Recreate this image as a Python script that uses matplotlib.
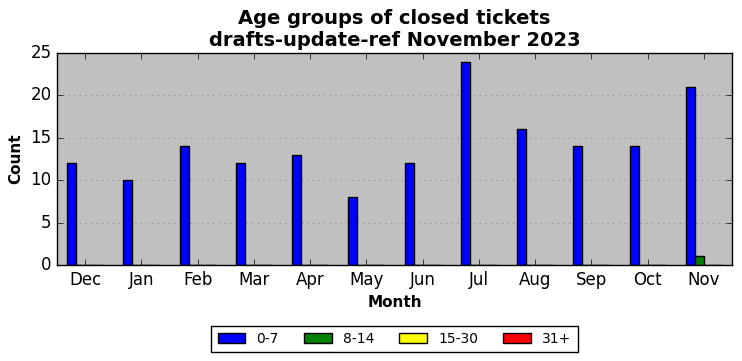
import numpy as np
import matplotlib.pyplot as plt

plt.style.use('classic')

# Closed tickets per month, split by age group (days)
months = ['Dec', 'Jan', 'Feb', 'Mar', 'Apr', 'May', 'Jun', 'Jul', 'Aug', 'Sep', 'Oct', 'Nov']
age_0_7 = [12, 10, 14, 12, 13, 8, 12, 24, 16, 14, 14, 21]
age_8_14 = [0, 0, 0, 0, 0, 0, 0, 0, 0, 0, 0, 1]
age_15_30 = [0, 0, 0, 0, 0, 0, 0, 0, 0, 0, 0, 0]
age_31 = [0, 0, 0, 0, 0, 0, 0, 0, 0, 0, 0, 0]

groups = [('0-7', age_0_7, 'blue'), ('8-14', age_8_14, 'green'),
          ('15-30', age_15_30, 'yellow'), ('31+', age_31, 'red')]

fig = plt.figure(figsize=(7.42, 3.61), dpi=100)
fig.patch.set_facecolor('white')
ax = fig.add_axes([0.0768, 0.266, 0.9097, 0.587])
ax.set_facecolor('silver')

x = np.arange(len(months))
w = 0.16
for k, (label, vals, col) in enumerate(groups):
    ax.bar(x - 2 * w + k * w, vals, width=w, align='edge', color=col,
           edgecolor='black', label=label)

ax.set_xlim(-0.5, len(months) - 0.5)
ax.set_ylim(0, 25)
ax.set_xticks(x)
ax.set_xticklabels(months)
ax.set_yticks(range(0, 26, 5))
ax.tick_params(labelsize=12)
ax.yaxis.grid(True, linestyle=':', color='gray')
ax.set_axisbelow(True)

ax.set_xlabel('Month', fontsize=11, fontweight='bold')
ax.set_ylabel('Count', fontsize=11, fontweight='bold')
ax.set_title('Age groups of closed tickets\ndrafts-update-ref November 2023',
             fontsize=14, fontweight='bold')

ax.legend(loc='upper center', bbox_to_anchor=(0.5, -0.255), ncol=4,
          fontsize=10, frameon=True, columnspacing=1.8, borderpad=0.45)

plt.savefig('out.png', dpi=100, facecolor='white')
